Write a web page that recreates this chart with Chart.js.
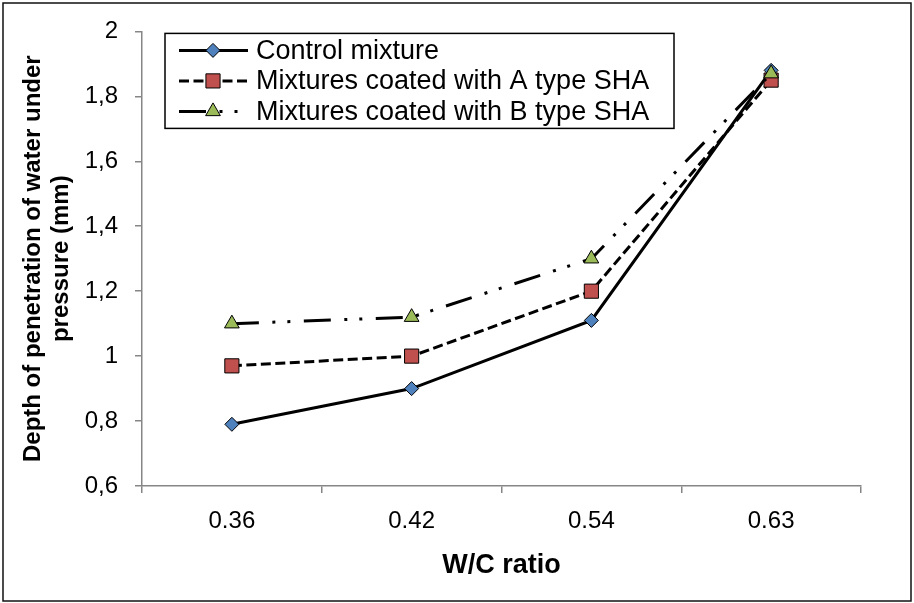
<!DOCTYPE html>
<html>
<head>
<meta charset="utf-8">
<script src="https://cdn.jsdelivr.net/npm/chart.js@4.4.1/dist/chart.umd.min.js"></script>
<style>
html, body { margin: 0; padding: 0; background: #fff; }
canvas { display: block; }
</style>
</head>
<body>
<canvas id="chart" width="914" height="603"></canvas>
<script>
// values
const categories = ['0.36', '0.42', '0.54', '0.63'];
const controlMixture = [0.79, 0.90, 1.11, 1.88];
const coatedA = [0.97, 1.00, 1.20, 1.85];
const coatedB = [1.10, 1.12, 1.30, 1.87];
const yTicks = [0.6, 0.8, 1, 1.2, 1.4, 1.6, 1.8, 2];
const seriesNames = ['Control mixture', 'Mixtures coated with A type SHA', 'Mixtures coated with B type SHA'];

const FONT = "'Liberation Sans', Arial, sans-serif";
const AXIS_GREY = '#868686';

// legend drawn inside the plot, with a line sample + marker like the original
const boxLegend = {
    id: 'boxLegend',
    afterDatasetsDraw(chart) {
        const ctx = chart.ctx;
        const area = chart.chartArea;
        const left = area.left + 23, top = area.top + 2;
        const w = 509, h = 95;
        ctx.save();
        ctx.fillStyle = '#fff';
        ctx.fillRect(left, top, w, h);
        ctx.lineWidth = 1.5;
        ctx.strokeStyle = '#000';
        ctx.strokeRect(left, top, w, h);

        chart.data.datasets.forEach((ds, i) => {
            const y = top + 17 + i * 30.5;
            const lx1 = left + 14, lx2 = left + 83, mx = left + 48;
            ctx.setLineDash(ds.borderDash || []);
            ctx.lineDashOffset = 0;
            ctx.lineWidth = ds.borderWidth;
            ctx.strokeStyle = ds.borderColor;
            ctx.beginPath();
            ctx.moveTo(lx1, y);
            ctx.lineTo(lx2, y);
            ctx.stroke();
            ctx.setLineDash([]);

            ctx.fillStyle = ds.pointBackgroundColor;
            ctx.strokeStyle = ds.pointBorderColor;
            ctx.lineWidth = ds.pointBorderWidth;
            Chart.helpers.drawPoint(ctx, {
                pointStyle: ds.pointStyle,
                radius: ds.pointRadius,
                borderWidth: ds.pointBorderWidth,
                rotation: 0
            }, mx, y);

            ctx.fillStyle = '#000';
            ctx.font = '27px ' + FONT;
            ctx.textBaseline = 'middle';
            ctx.textAlign = 'left';
            ctx.fillText(ds.label, left + 91, y + 1);
        });
        ctx.restore();
    }
};

// white page with the thin frame round the whole figure
const frame = {
    id: 'frame',
    beforeDraw(chart) {
        const ctx = chart.ctx;
        ctx.save();
        ctx.fillStyle = '#fff';
        ctx.fillRect(0, 0, chart.width, chart.height);
        ctx.restore();
    },
    afterDraw(chart) {
        const ctx = chart.ctx;
        ctx.save();
        ctx.lineWidth = 1.5;
        ctx.strokeStyle = '#111';
        ctx.strokeRect(3, 3, chart.width - 6, chart.height - 5);
        ctx.restore();
    }
};

function makeSeries(label, data, style, color, radius, dash, order) {
    return {
        label: label,
        data: data,
        borderColor: '#000',
        borderWidth: 3,
        borderDash: dash,
        tension: 0,
        pointStyle: style,
        pointRadius: radius,
        pointHoverRadius: radius,
        pointBackgroundColor: color,
        pointBorderColor: '#000',
        pointBorderWidth: 1,
        order: order
    };
}

new Chart(document.getElementById('chart'), {
    type: 'line',
    data: {
        labels: categories,
        datasets: [
            makeSeries(seriesNames[0], controlMixture, 'rectRot', '#4F81BD', 7, [], 3),
            makeSeries(seriesNames[1], coatedA, 'rect', '#C0504D', 10, [10, 4.5], 2),
            makeSeries(seriesNames[2], coatedB, 'triangle', '#9BBB59', 8.5, [27, 13.5, 3, 12, 3, 13.5], 1)
        ]
    },
    options: {
        responsive: false,
        animation: false,
        layout: { padding: { left: 8, right: 53, top: 29, bottom: 10 } },
        plugins: {
            legend: { display: false },
            tooltip: { enabled: false }
        },
        scales: {
            x: {
                type: 'category',
                offset: true,
                grid: {
                    offset: true,
                    drawOnChartArea: false,
                    drawTicks: true,
                    tickLength: 7,
                    color: AXIS_GREY,
                    lineWidth: 1.5
                },
                border: { color: AXIS_GREY, width: 1.5 },
                ticks: {
                    color: '#000',
                    font: { family: FONT, size: 24 },
                    padding: 14,
                    maxRotation: 0
                },
                title: {
                    display: true,
                    text: 'W/C ratio',
                    color: '#000',
                    font: { family: FONT, size: 27, weight: 'bold' },
                    padding: { top: 0, bottom: 11 }
                },
                afterFit(scale) { scale.height = 107; }
            },
            y: {
                min: 0.6,
                max: 2,
                afterBuildTicks(scale) {
                    scale.ticks = yTicks.map(v => ({ value: v }));
                },
                grid: {
                    drawOnChartArea: false,
                    drawTicks: true,
                    tickLength: 7,
                    color: AXIS_GREY,
                    lineWidth: 1.5
                },
                border: { color: AXIS_GREY, width: 1.5 },
                ticks: {
                    color: '#000',
                    font: { family: FONT, size: 24 },
                    padding: 17,
                    callback: v => String(v).replace('.', ',')
                },
                title: {
                    display: true,
                    text: ['Depth of penetration of water under', 'pressure (mm)'],
                    color: '#000',
                    font: { family: FONT, size: 24, weight: 'bold', lineHeight: 1.15 },
                    padding: { top: 12, bottom: 0 }
                },
                afterFit(scale) { scale.width = 134; }
            }
        }
    },
    plugins: [frame, boxLegend]
});
</script>
</body>
</html>
